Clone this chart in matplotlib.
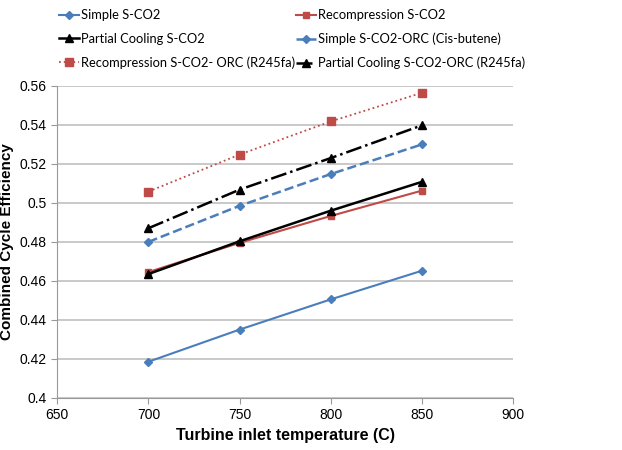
import matplotlib.pyplot as plt

plt.rcParams['font.family'] = ['Liberation Sans', 'DejaVu Sans']

temps = [700, 750, 800, 850]
simple = [0.4185, 0.4350, 0.4505, 0.4652]
recomp = [0.4645, 0.4795, 0.4933, 0.5063]
partial = [0.4635, 0.4803, 0.4960, 0.5108]
simple_orc = [0.4800, 0.4985, 0.5148, 0.5300]
recomp_orc = [0.5058, 0.5248, 0.5418, 0.5565]
partial_orc = [0.4870, 0.5068, 0.5230, 0.5398]

blue = '#4a7ebb'
red = '#be4b48'

fg = plt.figure(figsize=(6.22, 4.5), dpi=100)
ax = fg.add_axes([0.092, 0.116, 0.733, 0.693])

h1, = ax.plot(temps, simple, '-', color=blue, marker='D', ms=4, lw=1.5, label='Simple S-CO2')
h2, = ax.plot(temps, recomp, '-', color=red, marker='s', ms=5, lw=1.5, label='Recompression S-CO2')
h3, = ax.plot(temps, partial, '-', color='black', marker='^', ms=5.5, lw=1.8, label='Partial Cooling S-CO2')
h4, = ax.plot(temps, simple_orc, '--', color=blue, marker='D', ms=4, lw=1.8, label='Simple S-CO2-ORC (Cis-butene)')
h5, = ax.plot(temps, recomp_orc, ':', color=red, marker='s', ms=6, lw=1.3, label='Recompression S-CO2- ORC (R245fa)')
h6, = ax.plot(temps, partial_orc, '-.', color='black', marker='^', ms=6, lw=1.8, label='Partial Cooling S-CO2-ORC (R245fa)')

ax.set_xlim(650, 900)
ax.set_ylim(0.4, 0.56)
ax.set_xticks([650, 700, 750, 800, 850, 900])
ax.set_yticks([0.4, 0.42, 0.44, 0.46, 0.48, 0.5, 0.52, 0.54, 0.56])
ax.set_yticklabels(['0.4', '0.42', '0.44', '0.46', '0.48', '0.5', '0.52', '0.54', '0.56'])
ax.yaxis.grid(True, color='#c0c0c0', lw=1.2)
ax.set_axisbelow(True)
for s in ['top', 'right']:
    ax.spines[s].set_visible(False)
for s in ['left', 'bottom']:
    ax.spines[s].set_color('#999999')
ax.tick_params(axis='both', colors='#999999', labelcolor='black', labelsize=10, length=4)
ax.set_xlabel('Turbine inlet temperature (C)', fontsize=11.5, fontweight='bold')
ax.set_ylabel('Combined Cycle Efficiency', fontsize=11, fontweight='bold')

order = [h1, h3, h5, h2, h4, h6]
fg.legend(order, [h.get_label() for h in order],
          ncol=2, loc='upper left', bbox_to_anchor=(0.08, 1.0), frameon=False,
          prop={'family': 'Lato', 'size': 9.3}, handlelength=1.6, columnspacing=0.0,
          labelspacing=0.9, handletextpad=0.15, borderaxespad=0.3)

fg.savefig('out.png')
